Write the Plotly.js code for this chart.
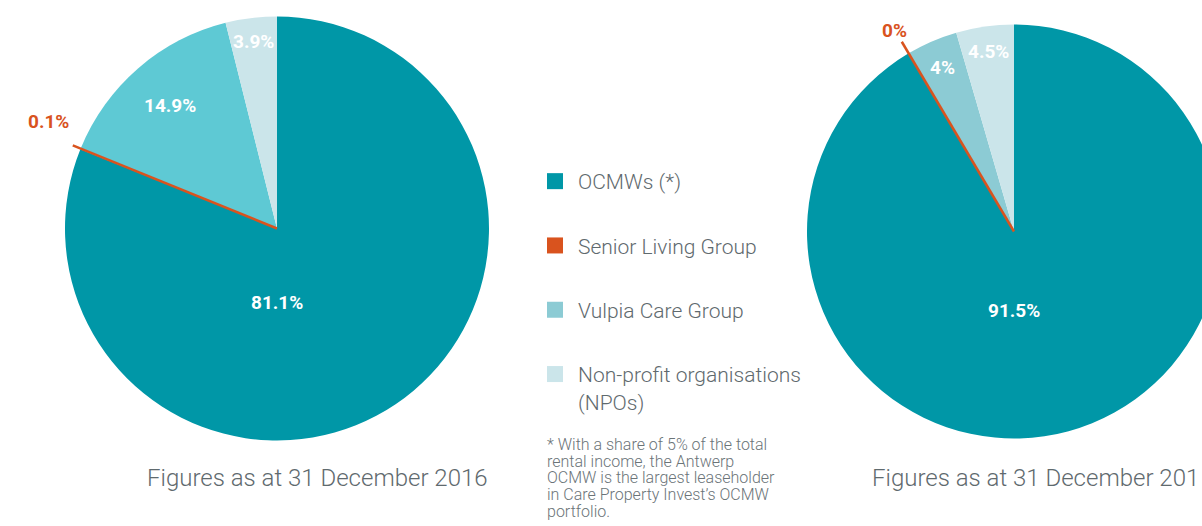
<!DOCTYPE html>
<html><head><meta charset="utf-8">
<script src="https://cdn.plot.ly/plotly-3.0.1.min.js"></script>
<style>html,body{margin:0;padding:0;overflow:hidden;background:#fff;width:1202px;height:526px}#chart{width:1230px;height:526px}</style>
</head><body><div id="chart"></div>
<script>
// ---- data ----
const categories = ['OCMWs (*)', 'Senior Living Group', 'Vulpia Care Group', 'Non-profit organisations (NPOs)'];
const legendLabels = ['OCMWs (*)', 'Senior Living Group', 'Vulpia Care Group', 'Non-profit organisations<br>(NPOs)'];
const values2016 = [81.1, 0.1, 14.9, 3.9];
const values2017 = [91.5, 0, 4, 4.5];
const labels2016 = ['81.1%', '0.1%', '14.9%', '3.9%'];
const labels2017 = ['91.5%', '0%', '4%', '4.5%'];
const captions = ['Figures as at 31 December 2016', 'Figures as at 31 December 201'];
const footnoteLines = ['* With a share of 5% of the total', 'rental income, the Antwerp', 'OCMW is the largest leaseholder', 'in Care Property Invest\u2019s OCMW', 'portfolio.'];

// ---- styles / layout ----
const W = 1230, H = 526;
const TEAL = '#0097a7', ORANGE = '#d9531e', LIGHT = '#8ccbd4', PALE = '#cbe5ea', CYAN = '#5ec9d4';
const GREY = '#5f6a6e';
const legendColors = [TEAL, ORANGE, LIGHT, PALE];
const pieCfg = [
  {vals: values2016, labels: labels2016, colors: [TEAL, ORANGE, CYAN, PALE], cx: 277, cy: 228.5, r: 212,
   labelR: [0.35, 1.19, 0.77, 0.89], lineR: 1.04, xa: 'x', ya: 'y', labelTurn: 0.05},
  {vals: values2017, labels: labels2017, colors: [TEAL, ORANGE, LIGHT, PALE], cx: 1014, cy: 231.5, r: 207,
   labelR: [0.38, 1.13, 0.865, 0.88], lineR: 1.065, xa: 'x2', ya: 'y2', labelTurn: 0.0}
];

const traces = [];
const shapes = [];
const annotations = [];
const layout = {
  width: W, height: H, margin: {l: 0, r: 0, t: 0, b: 0},
  paper_bgcolor: '#fff', plot_bgcolor: 'rgba(0,0,0,0)',
  showlegend: true,
  legend: {x: 532 / W, xanchor: 'left', y: (H - 161) / H, yanchor: 'top',
    font: {family: 'Roboto, sans-serif', size: 21, color: GREY, weight: 300},
    itemwidth: 36, tracegroupgap: 34, valign: 'top', bgcolor: 'rgba(0,0,0,0)',
    itemclick: false, itemdoubleclick: false},
  shapes: shapes, annotations: annotations
};

pieCfg.forEach((p, k) => {
  const dx = [(p.cx - p.r) / W, (p.cx + p.r) / W];
  const dy = [(H - p.cy - p.r) / H, (H - p.cy + p.r) / H];
  traces.push({type: 'pie', values: p.vals, labels: categories, sort: false, direction: 'clockwise', rotation: 0,
    marker: {colors: p.colors, line: {width: 0}}, textinfo: 'none', hoverinfo: 'skip', showlegend: false,
    domain: {x: dx, y: dy}});
  const axn = k === 0 ? '' : '2';
  layout['xaxis' + axn] = {domain: dx, range: [-1, 1], visible: false, fixedrange: true, anchor: 'y' + axn};
  layout['yaxis' + axn] = {domain: dy, range: [-1, 1], visible: false, fixedrange: true, anchor: 'x' + axn};
  traces.push({type: 'scatter', x: [null], y: [null], xaxis: p.xa, yaxis: p.ya, showlegend: false, hoverinfo: 'skip'});

  const total = p.vals.reduce((a, b) => a + b, 0);
  let cum = 0;
  p.vals.forEach((v, i) => {
    const mid = 2 * Math.PI * (cum + v / 2) / total;
    cum += v;
    const isOrange = i === 1;
    if (isOrange) {
      const la = mid + p.labelTurn;
      const lx = Math.sin(la), ly = Math.cos(la);
      const rr = p.labelR[i];
      annotations.push({xref: p.xa, yref: p.ya, x: lx, y: ly,
        xshift: (rr - 1) * p.r * lx, yshift: (rr - 1) * p.r * ly,
        text: p.labels[i], showarrow: false, xanchor: 'center', yanchor: 'middle',
        font: {family: 'Roboto, sans-serif', size: 19, weight: 700, color: ORANGE}});
      shapes.push({type: 'line', xref: p.xa, yref: p.ya, x0: 0, y0: 0,
        x1: p.lineR * Math.sin(mid), y1: p.lineR * Math.cos(mid),
        line: {color: ORANGE, width: 2.5}, layer: 'above'});
    } else {
      const ang = i === 0 ? Math.PI : mid;
      const rr = p.labelR[i];
      annotations.push({xref: p.xa, yref: p.ya, x: rr * Math.sin(ang), y: rr * Math.cos(ang),
        text: p.labels[i], showarrow: false, xanchor: 'center', yanchor: 'middle',
        font: {family: 'Roboto, sans-serif', size: 19, weight: 700, color: '#ffffff'}});
    }
  });
});

// legend entries
legendLabels.forEach((name, i) => {
  traces.push({type: 'scatter', mode: 'markers', x: [null], y: [null], name: name, legendgroup: 'g' + i,
    marker: {symbol: 'square', size: 16, color: legendColors[i], line: {width: 0}}, hoverinfo: 'skip'});
});

// captions
annotations.push({xref: 'paper', yref: 'paper', x: 317 / W, y: (H - 478) / H, xanchor: 'center', yanchor: 'middle',
  text: captions[0], showarrow: false, font: {family: 'Roboto, sans-serif', size: 24, weight: 300, color: GREY}});
annotations.push({xref: 'paper', yref: 'paper', x: 870 / W, y: (H - 478) / H, xanchor: 'left', yanchor: 'middle',
  text: captions[1], showarrow: false, font: {family: 'Roboto, sans-serif', size: 24, weight: 300, color: GREY}});
// footnote: one block, tight line spacing (line height follows the 12.8px base size)
annotations.push({xref: 'paper', yref: 'paper', x: 545 / W, y: (H - 433) / H, xanchor: 'left', yanchor: 'top',
  align: 'left', showarrow: false,
  text: footnoteLines.map(t => '<span style="font-size:16px">' + t + '</span>').join('<br>'),
  font: {family: 'Roboto, sans-serif', size: 12.8, weight: 300, color: '#6b7478'}});

Plotly.newPlot('chart', traces, layout, {displayModeBar: false, responsive: false});
</script>
</body></html>
